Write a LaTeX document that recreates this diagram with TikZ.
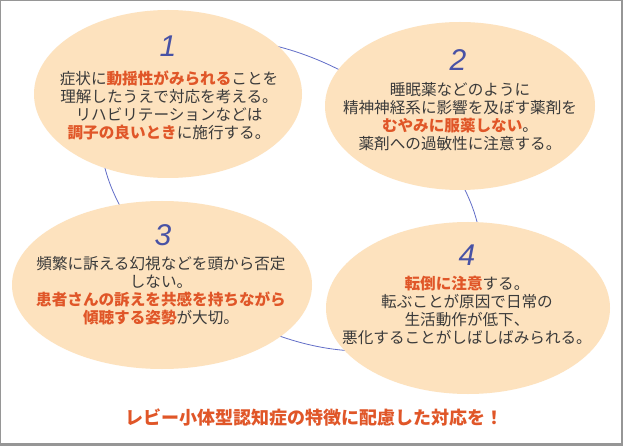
\documentclass[tikz,border=0pt]{standalone}
\usepackage{fontspec}
\setmainfont{Noto Sans CJK JP}
\newfontfamily\numfont{Liberation Sans}
\usetikzlibrary{shapes.geometric, positioning}
\definecolor{peach}{RGB}{253,226,190}
\definecolor{ringblue}{RGB}{98,110,200}
\definecolor{numblue}{RGB}{72,82,165}
\definecolor{hilite}{RGB}{224,86,40}
\definecolor{bodytext}{RGB}{58,58,58}
\definecolor{framegray}{RGB}{150,150,150}
\newcommand{\hl}[1]{{\color{hilite}\bfseries #1}}
\tikzset{
    bubble/.style={ellipse, fill=peach, inner sep=0pt}, % peach ovals
    ring/.style={ellipse, draw=ringblue, line width=0.8pt, inner sep=0pt}, % blue loop behind the ovals
    num/.style={font=\numfont\itshape\fontsize{30}{30}\selectfont, text=numblue},
    txt/.style={align=center, text=bodytext, font=\fontsize{15.6}{18}\selectfont},
    headline/.style={text=hilite, font=\bfseries\fontsize{18}{20}\selectfont},
}

\begin{document}
\begin{tikzpicture}[x=1pt, y=-1pt]
  % frame
  \fill[framegray] (0,0) rectangle (623,446);
  \fill[white] (1,1) rectangle (621,443);

  \node[ring, rotate=-31, minimum width=414pt, minimum height=266pt] (loop) at (291,195) {};

  \node[bubble, minimum width=268pt, minimum height=168pt] (e1) at (168,94) {};
  \node[bubble, minimum width=270pt, minimum height=168pt] (e2) at (460,106) {};
  \node[bubble, minimum width=300pt, minimum height=168pt] (e3) at (162,285) {};
  \node[bubble, minimum width=284pt, minimum height=172pt] (e4) at (468,308) {};

  \node[num] (n1) at (168,46) {1};
  \node[txt] (t1) at (169,105) {症状に\hl{動揺性がみられる}ことを\\理解したうえで対応を考える。\\リハビリテーションなどは\\\hl{調子の良いとき}に施行する。};

  \node[num] (n2) at (458,60) {2};
  \node[txt] (t2) at (460,117) {睡眠薬などのように\\精神神経系に影響を及ぼす薬剤を\\\hl{むやみに服薬しない}。\\薬剤への過敏性に注意する。};

  \node[num] (n3) at (163,235) {3};
  \node[txt] (t3) at (161,291) {頻繁に訴える幻視などを頭から否定\\しない。\\\hl{患者さんの訴えを共感を持ちながら}\\\hl{傾聴する姿勢}が大切。};

  \node[num] (n4) at (467,255) {4};
  \node[txt] (t4) at (467,310) {\hl{転倒に注意}する。\\転ぶことが原因で日常の\\生活動作が低下、\\悪化することがしばしばみられる。};

  \node[headline] (ttl) at (314,418) {レビー小体型認知症の特徴に配慮した対応を！};
\end{tikzpicture}
\end{document}
